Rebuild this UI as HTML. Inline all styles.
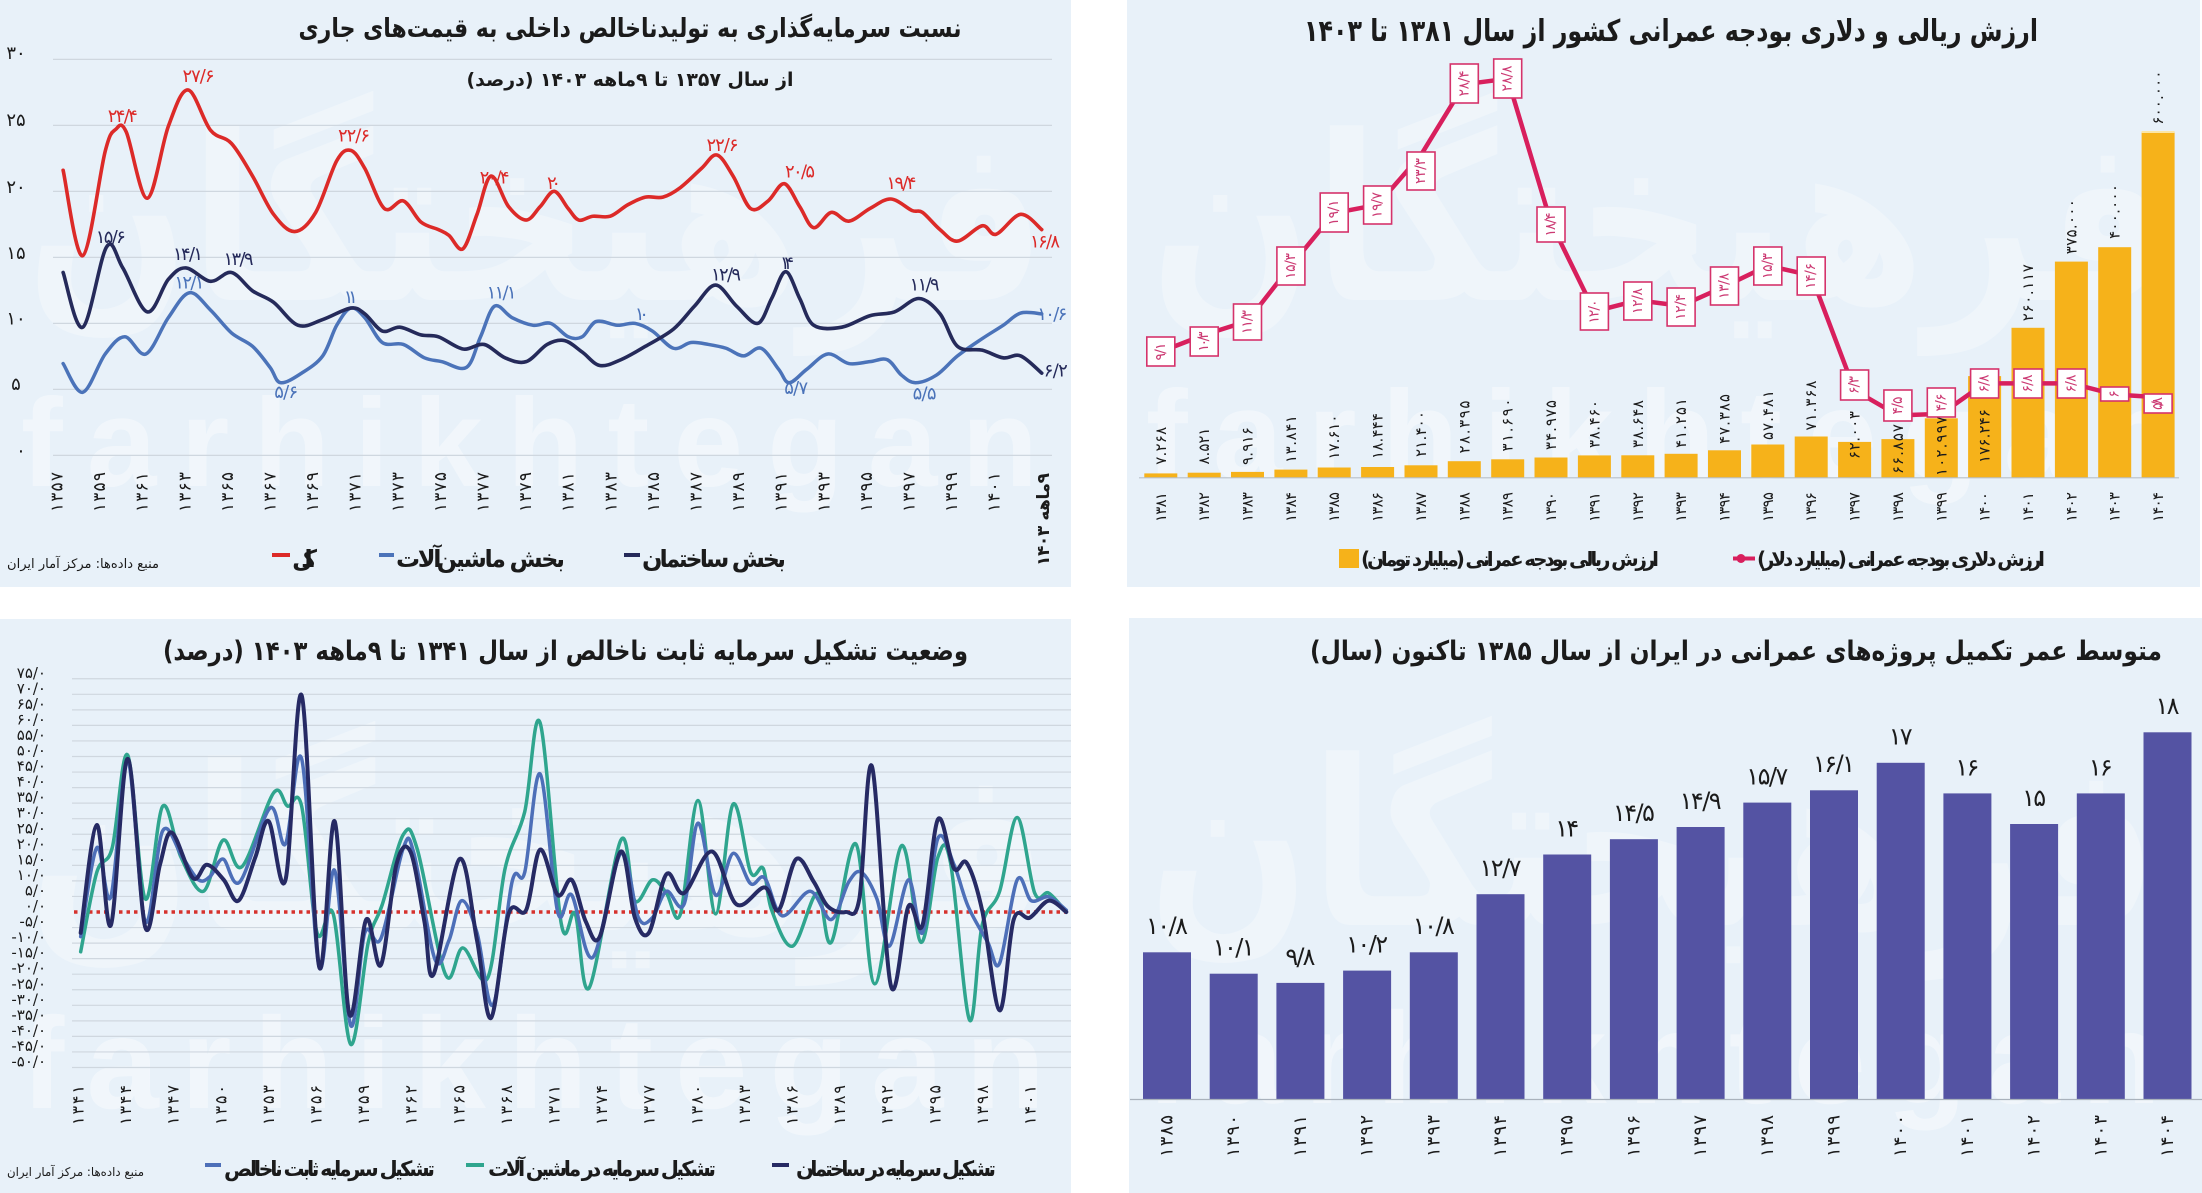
<!DOCTYPE html>
<html><head><meta charset="utf-8"><style>
html,body{margin:0;padding:0;background:#fff;overflow:hidden}
svg{display:block}
text{font-family:"DejaVu Sans","Liberation Sans",sans-serif;fill:#1b1b1b}
.fa{direction:rtl;unicode-bidi:embed}
.b{font-weight:bold}
.wm{font-family:"Liberation Sans",sans-serif;font-weight:bold;fill:#ffffff;opacity:.42}
.lg{font-family:"DejaVu Sans",sans-serif;font-weight:bold;fill:#ffffff;opacity:.3;direction:rtl;unicode-bidi:embed}
.r{dominant-baseline:central;text-anchor:middle}
</style></head><body>
<svg width="2202" height="1193" viewBox="0 0 2202 1193" xmlns="http://www.w3.org/2000/svg">
<!-- panels -->
<rect x="0" y="0" width="1071" height="587" fill="#e8f1f9"/>
<rect x="1127" y="0" width="1073" height="587" fill="#e8f1f9"/>
<rect x="0" y="619" width="1071" height="574" fill="#e8f1f9"/>
<rect x="1129" y="618" width="1073" height="575" fill="#e8f1f9"/>

<!-- watermarks -->
<text class="lg" x="536" y="300" font-size="230" text-anchor="middle" textLength="1020" lengthAdjust="spacingAndGlyphs">فرهیختگان</text>
<text class="lg" x="1660" y="300" font-size="230" text-anchor="middle" textLength="1020" lengthAdjust="spacingAndGlyphs">فرهیختگان</text>
<text class="lg" x="538" y="930" font-size="230" text-anchor="middle" textLength="1020" lengthAdjust="spacingAndGlyphs">فرهیختگان</text>
<text class="lg" x="1653" y="925" font-size="230" text-anchor="middle" textLength="1010" lengthAdjust="spacingAndGlyphs">فرهیختگان</text>
<text class="wm" x="21" y="486" font-size="125" textLength="1017" lengthAdjust="spacing">farhikhtegan</text>
<text class="wm" x="1146" y="478" font-size="125" textLength="1029" lengthAdjust="spacing">farhikhtegan</text>
<text class="wm" x="21" y="1108" font-size="130" textLength="1024" lengthAdjust="spacing">farhikhtegan</text>
<text class="wm" x="1146" y="1103" font-size="130" textLength="1015" lengthAdjust="spacing">farhikhtegan</text>

<!-- ================= TOP LEFT ================= -->
<text class="fa b" x="630" y="37" font-size="26" text-anchor="middle" textLength="663" lengthAdjust="spacingAndGlyphs">نسبت سرمایه‌گذاری به تولیدناخالص داخلی به قیمت‌های جاری</text>
<text class="fa b" x="630" y="86" font-size="19" text-anchor="middle" textLength="327" lengthAdjust="spacingAndGlyphs">از سال ۱۳۵۷ تا ۹ماهه ۱۴۰۳ (درصد)</text>
<g stroke="#cfd7df" stroke-width="1.2">
<line x1="53" y1="59.4" x2="1052" y2="59.4"/><line x1="53" y1="125.4" x2="1052" y2="125.4"/>
<line x1="53" y1="191.4" x2="1052" y2="191.4"/><line x1="53" y1="257.4" x2="1052" y2="257.4"/>
<line x1="53" y1="323.4" x2="1052" y2="323.4"/><line x1="53" y1="389.4" x2="1052" y2="389.4"/>
<line x1="53" y1="455.4" x2="1052" y2="455.4"/>
</g>
<g font-size="18" class="r">
<text x="16" y="53.6">۳۰</text><text x="16" y="120.6">۲۵</text><text x="16" y="187.5">۲۰</text>
<text x="16" y="253.3">۱۵</text><text x="16" y="318.8">۱۰</text><text x="16" y="384.6">۵</text><text x="21" y="450.8">۰</text>
</g>
<g fill="none" stroke-linejoin="round" stroke-linecap="round">
<polyline class="s" transform="scale(0.7015,0.3827)" vector-effect="non-scaling-stroke" stroke="#4b73b9" stroke-width="3.5" points="90,950 118,1025 150,925 178,880 208,925 240,830 270,765 300,810 330,870 360,905 385,960 400,1000 430,975 460,930 480,850 500,805 520,830 545,895 575,900 605,935 630,945 665,960 685,880 705,800 730,830 760,850 785,845 810,880 830,880 850,840 880,850 905,845 930,865 960,910 985,895 1010,900 1035,910 1060,930 1085,910 1110,965 1125,1000 1150,965 1180,925 1210,950 1240,945 1265,940 1285,980 1305,1000 1335,980 1365,930 1400,885 1430,850 1455,818 1485,820"/>
<polyline class="s" transform="scale(0.7015,0.3827)" vector-effect="non-scaling-stroke" stroke="#252a5a" stroke-width="3.6" points="90,712 118,855 152,645 175,700 210,815 240,730 265,700 300,735 330,712 360,760 390,790 425,850 460,835 500,805 520,820 545,865 570,855 600,875 625,880 660,912 690,900 720,935 750,945 780,900 805,890 830,920 855,955 885,940 920,905 960,860 990,800 1020,745 1050,800 1080,845 1100,780 1120,710 1140,780 1160,850 1200,855 1240,825 1275,815 1310,780 1340,820 1365,905 1400,915 1430,935 1455,930 1485,975"/>
<polyline class="s" transform="scale(0.7015,0.3827)" vector-effect="non-scaling-stroke" stroke="#dc2a28" stroke-width="3.6" points="90,445 118,668 150,395 165,338 180,345 210,518 240,330 268,235 300,340 330,375 360,460 390,560 420,605 450,555 480,420 500,393 520,440 548,545 575,525 600,580 625,600 640,615 660,650 680,560 700,460 725,540 750,575 770,540 790,500 810,545 825,575 845,565 870,565 895,535 920,515 945,515 970,490 1000,440 1022,405 1045,460 1070,545 1095,525 1118,480 1140,540 1160,595 1185,555 1210,578 1240,545 1270,520 1300,550 1315,555 1340,600 1365,630 1400,590 1420,612 1455,560 1485,600"/>
</g>
<g font-size="18" class="r" lengthAdjust="spacingAndGlyphs">
<text x="122.8" y="116.7" style="fill:#dc2a28" textLength="30">۲۴/۴</text>
<text x="198.5" y="76.5" style="fill:#dc2a28" textLength="32">۲۷/۶</text>
<text x="354" y="135.9" style="fill:#dc2a28" textLength="32">۲۲/۶</text>
<text x="494.6" y="178" style="fill:#dc2a28" textLength="30">۲۰/۴</text>
<text x="554" y="183.7" style="fill:#dc2a28" textLength="14">۲۰</text>
<text x="722.5" y="145.4" style="fill:#dc2a28" textLength="32">۲۲/۶</text>
<text x="800" y="172.2" style="fill:#dc2a28" textLength="30">۲۰/۵</text>
<text x="901.4" y="183.7" style="fill:#dc2a28" textLength="30">۱۹/۴</text>
<text x="1045" y="241.9" style="fill:#dc2a28" textLength="30">۱۶/۸</text>
<text x="110.8" y="237.3" style="fill:#252a5a" textLength="30">۱۵/۶</text>
<text x="188" y="254.5" style="fill:#252a5a" textLength="30">۱۴/۱</text>
<text x="238.5" y="259.5" style="fill:#252a5a" textLength="30">۱۳/۹</text>
<text x="726" y="274.8" style="fill:#252a5a" textLength="30">۱۲/۹</text>
<text x="787" y="263.3" style="fill:#252a5a" textLength="14">۱۴</text>
<text x="924.6" y="285.1" style="fill:#252a5a" textLength="30">۱۱/۹</text>
<text x="1055.8" y="371.2" style="fill:#252a5a" textLength="24">۶/۲</text>
<text x="189.4" y="283.2" style="fill:#4b73b9" textLength="30">۱۲/۱</text>
<text x="350.8" y="297.7" style="fill:#4b73b9" textLength="14">۱۱</text>
<text x="286.2" y="392.3" style="fill:#4b73b9" textLength="24">۵/۶</text>
<text x="501.6" y="292.8" style="fill:#4b73b9" textLength="30">۱۱/۱</text>
<text x="641.9" y="314.6" style="fill:#4b73b9" textLength="14">۱۰</text>
<text x="796.2" y="388.4" style="fill:#4b73b9" textLength="24">۵/۷</text>
<text x="924.6" y="394.2" style="fill:#4b73b9" textLength="24">۵/۵</text>
<text x="1052.3" y="314.6" style="fill:#4b73b9" textLength="30">۱۰/۶</text>
</g>
<g font-size="17" class="r" lengthAdjust="spacingAndGlyphs">
<text transform="translate(57.5,492) rotate(-90)" textLength="40">۱۳۵۷</text>
<text transform="translate(100.1,492) rotate(-90)" textLength="40">۱۳۵۹</text>
<text transform="translate(142.7,492) rotate(-90)" textLength="40">۱۳۶۱</text>
<text transform="translate(185.3,492) rotate(-90)" textLength="40">۱۳۶۳</text>
<text transform="translate(227.9,492) rotate(-90)" textLength="40">۱۳۶۵</text>
<text transform="translate(270.5,492) rotate(-90)" textLength="40">۱۳۶۷</text>
<text transform="translate(313.1,492) rotate(-90)" textLength="40">۱۳۶۹</text>
<text transform="translate(355.7,492) rotate(-90)" textLength="40">۱۳۷۱</text>
<text transform="translate(398.3,492) rotate(-90)" textLength="40">۱۳۷۳</text>
<text transform="translate(440.9,492) rotate(-90)" textLength="40">۱۳۷۵</text>
<text transform="translate(483.5,492) rotate(-90)" textLength="40">۱۳۷۷</text>
<text transform="translate(526.1,492) rotate(-90)" textLength="40">۱۳۷۹</text>
<text transform="translate(568.7,492) rotate(-90)" textLength="40">۱۳۸۱</text>
<text transform="translate(611.3,492) rotate(-90)" textLength="40">۱۳۸۳</text>
<text transform="translate(653.9,492) rotate(-90)" textLength="40">۱۳۸۵</text>
<text transform="translate(696.5,492) rotate(-90)" textLength="40">۱۳۸۷</text>
<text transform="translate(739.1,492) rotate(-90)" textLength="40">۱۳۸۹</text>
<text transform="translate(781.7,492) rotate(-90)" textLength="40">۱۳۹۱</text>
<text transform="translate(824.3,492) rotate(-90)" textLength="40">۱۳۹۳</text>
<text transform="translate(866.9,492) rotate(-90)" textLength="40">۱۳۹۵</text>
<text transform="translate(909.5,492) rotate(-90)" textLength="40">۱۳۹۷</text>
<text transform="translate(952.1,492) rotate(-90)" textLength="40">۱۳۹۹</text>
<text transform="translate(994.7,492) rotate(-90)" textLength="40">۱۴۰۱</text>
<text class="fa b" transform="translate(1044,519.5) rotate(-90)" textLength="93">۹ماهه ۱۴۰۳</text>
</g>
<rect x="272" y="553" width="18" height="4" fill="#dc2a28"/>
<rect x="379" y="553" width="15" height="4" fill="#4b73b9"/>
<rect x="624" y="553" width="16" height="4" fill="#252a5a"/>
<g class="fa b" font-size="24" text-anchor="middle" lengthAdjust="spacingAndGlyphs">
<text x="304.5" y="567" textLength="25">کل</text>
<text x="480.5" y="567" textLength="169">بخش ماشین‌آلات</text>
<text x="714" y="567" textLength="144">بخش ساختمان</text>
</g>
<text class="fa" x="83" y="568" font-size="13" text-anchor="middle" textLength="152" lengthAdjust="spacingAndGlyphs">منبع داده‌ها: مرکز آمار ایران</text>

<!-- ================= TOP RIGHT ================= -->
<text class="fa b" x="1671" y="41" font-size="30" text-anchor="middle" textLength="734" lengthAdjust="spacingAndGlyphs">ارزش ریالی و دلاری بودجه عمرانی کشور از سال ۱۳۸۱ تا ۱۴۰۳</text>
<g fill="#f6b21a">
<rect x="1144.3" y="473.4" width="33" height="4.2"/>
<rect x="1187.7" y="472.7" width="33" height="4.9"/>
<rect x="1231" y="471.9" width="33" height="5.7"/>
<rect x="1274.4" y="469.6" width="33" height="8"/>
<rect x="1317.7" y="467.5" width="33" height="10.1"/>
<rect x="1361.1" y="467" width="33" height="10.6"/>
<rect x="1404.5" y="465.3" width="33" height="12.3"/>
<rect x="1447.8" y="461.2" width="33" height="16.4"/>
<rect x="1491.2" y="459.3" width="33" height="18.3"/>
<rect x="1534.5" y="457.5" width="33" height="20.1"/>
<rect x="1577.9" y="455.4" width="33" height="22.2"/>
<rect x="1621.3" y="455.3" width="33" height="22.3"/>
<rect x="1664.6" y="453.8" width="33" height="23.8"/>
<rect x="1708" y="450.3" width="33" height="27.3"/>
<rect x="1751.3" y="444.5" width="33" height="33.1"/>
<rect x="1794.7" y="436.5" width="33" height="41.1"/>
<rect x="1838.1" y="441.9" width="33" height="35.7"/>
<rect x="1881.4" y="439.1" width="33" height="38.5"/>
<rect x="1924.8" y="418.3" width="33" height="59.3"/>
<rect x="1968.1" y="376.1" width="33" height="101.5"/>
<rect x="2011.5" y="327.8" width="33" height="149.8"/>
<rect x="2054.9" y="261.6" width="33" height="216"/>
<rect x="2098.2" y="247.2" width="33" height="230.4"/>
<rect x="2141.6" y="132" width="33" height="345.6"/>
</g>
<rect x="2141.6" y="131" width="33" height="2" fill="#fbe6a6"/>
<line x1="1139" y1="477.8" x2="2179" y2="477.8" stroke="#b8c0c8" stroke-width="1.2"/>
<g font-size="15" class="r" lengthAdjust="spacingAndGlyphs">
<text transform="translate(1160.8,445.8) rotate(-90)" textLength="38">۷.۲۶۸</text>
<text transform="translate(1204.2,446) rotate(-90)" textLength="37">۸.۵۲۱</text>
<text transform="translate(1247.5,446) rotate(-90)" textLength="38">۹.۹۱۶</text>
<text transform="translate(1290.9,439) rotate(-90)" textLength="48">۱۳.۸۴۱</text>
<text transform="translate(1334.2,437) rotate(-90)" textLength="45">۱۷.۶۱۰</text>
<text transform="translate(1377.6,436) rotate(-90)" textLength="46">۱۸.۴۴۴</text>
<text transform="translate(1421,434) rotate(-90)" textLength="46">۲۱.۴۰۰</text>
<text transform="translate(1464.3,427) rotate(-90)" textLength="53">۲۸.۳۹۵</text>
<text transform="translate(1507.7,425) rotate(-90)" textLength="53">۳۱.۶۹۰</text>
<text transform="translate(1551,425) rotate(-90)" textLength="50">۳۴.۹۷۵</text>
<text transform="translate(1594.4,424) rotate(-90)" textLength="48">۳۸.۴۶۰</text>
<text transform="translate(1637.8,424) rotate(-90)" textLength="48">۳۸.۶۴۸</text>
<text transform="translate(1681.1,423) rotate(-90)" textLength="50">۴۱.۲۵۱</text>
<text transform="translate(1724.5,419) rotate(-90)" textLength="50">۴۷.۳۸۵</text>
<text transform="translate(1767.8,415) rotate(-90)" textLength="50">۵۷.۴۸۱</text>
<text transform="translate(1811.2,405.5) rotate(-90)" textLength="50">۷۱.۳۶۸</text>
<text transform="translate(1854.6,435) rotate(-90)" textLength="48">۶۲.۰۰۳</text>
<text transform="translate(1897.9,449) rotate(-90)" textLength="50">۶۶.۸۵۷</text>
<text transform="translate(1941.3,446) rotate(-90)" textLength="60">۱۰۲.۹۹۷</text>
<text transform="translate(1984.6,436) rotate(-90)" textLength="54">۱۷۶.۲۴۶</text>
<text transform="translate(2028,292.7) rotate(-90)" textLength="57">۲۶۰.۱۱۷</text>
<text transform="translate(2071.4,226.7) rotate(-90)" textLength="55">۳۷۵.۰۰۰</text>
<text transform="translate(2114.7,211.5) rotate(-90)" textLength="55">۴۰۰.۰۰۰</text>
<text transform="translate(2158.1,97.6) rotate(-90)" textLength="54">۶۰۰.۰۰۰</text>
</g>
<polyline fill="none" stroke="#d81f5d" stroke-width="4.5" stroke-linejoin="round" points="1160.8,351.6 1204.2,334.9 1247.5,321.1 1290.9,265.7 1334.2,213.1 1377.6,204.8 1421,154.9 1464.3,84.3 1507.7,78.7 1551,222.8 1594.4,311.4 1637.8,300.3 1681.1,305.9 1724.5,286.5 1767.8,265.7 1811.2,275.4 1854.6,390.3 1897.9,415.3 1941.3,413.9 1984.6,383.4 2028,383.4 2071.4,383.4 2114.7,394.5 2158.1,397.3"/>
<g fill="#ffffff" stroke="#d5336b" stroke-width="1.6">
<rect x="1146.8" y="337" width="28" height="29"/>
<rect x="1190.2" y="327" width="28" height="29"/>
<rect x="1233.5" y="304" width="28" height="36"/>
<rect x="1276.9" y="247" width="28" height="38"/>
<rect x="1320.2" y="193" width="28" height="39"/>
<rect x="1363.6" y="186" width="28" height="38"/>
<rect x="1407" y="152" width="28" height="38"/>
<rect x="1450.3" y="64" width="28" height="39"/>
<rect x="1493.7" y="59" width="28" height="39"/>
<rect x="1537" y="207" width="28" height="35"/>
<rect x="1580.4" y="293" width="28" height="37"/>
<rect x="1623.8" y="282" width="28" height="38"/>
<rect x="1667.1" y="288" width="28" height="38"/>
<rect x="1710.5" y="267" width="28" height="38"/>
<rect x="1753.8" y="247" width="28" height="38"/>
<rect x="1797.2" y="257" width="28" height="38"/>
<rect x="1840.6" y="370" width="28" height="30"/>
<rect x="1883.9" y="390" width="28" height="31"/>
<rect x="1927.3" y="388" width="28" height="29"/>
<rect x="1970.6" y="369" width="28" height="29"/>
<rect x="2014" y="369" width="28" height="29"/>
<rect x="2057.4" y="369" width="28" height="29"/>
<rect x="2100.7" y="387" width="28" height="14"/>
<rect x="2144.1" y="394" width="28" height="19"/>
</g>
<g font-size="14" class="r" lengthAdjust="spacingAndGlyphs">
<text style="fill:#cc3a73" transform="translate(1160.8,351.5) rotate(-90)" textLength="18">۹/۱</text>
<text style="fill:#cc3a73" transform="translate(1204.2,341.5) rotate(-90)" textLength="20">۱۰/۳</text>
<text style="fill:#cc3a73" transform="translate(1247.5,322) rotate(-90)" textLength="24">۱۱/۳</text>
<text style="fill:#cc3a73" transform="translate(1290.9,266) rotate(-90)" textLength="26">۱۵/۳</text>
<text style="fill:#cc3a73" transform="translate(1334.2,212.5) rotate(-90)" textLength="26">۱۹/۱</text>
<text style="fill:#cc3a73" transform="translate(1377.6,205) rotate(-90)" textLength="26">۱۹/۷</text>
<text style="fill:#cc3a73" transform="translate(1421,171) rotate(-90)" textLength="26">۲۳/۳</text>
<text style="fill:#cc3a73" transform="translate(1464.3,83.5) rotate(-90)" textLength="26">۲۸/۴</text>
<text style="fill:#cc3a73" transform="translate(1507.7,78.5) rotate(-90)" textLength="26">۲۸/۸</text>
<text style="fill:#cc3a73" transform="translate(1551,224.5) rotate(-90)" textLength="24">۱۸/۴</text>
<text style="fill:#cc3a73" transform="translate(1594.4,311.5) rotate(-90)" textLength="24">۱۲/۰</text>
<text style="fill:#cc3a73" transform="translate(1637.8,301) rotate(-90)" textLength="26">۱۲/۸</text>
<text style="fill:#cc3a73" transform="translate(1681.1,307) rotate(-90)" textLength="26">۱۲/۴</text>
<text style="fill:#cc3a73" transform="translate(1724.5,286) rotate(-90)" textLength="26">۱۳/۸</text>
<text style="fill:#cc3a73" transform="translate(1767.8,266) rotate(-90)" textLength="26">۱۵/۳</text>
<text style="fill:#cc3a73" transform="translate(1811.2,276) rotate(-90)" textLength="26">۱۴/۶</text>
<text style="fill:#cc3a73" transform="translate(1854.6,385) rotate(-90)" textLength="18">۶/۳</text>
<text style="fill:#cc3a73" transform="translate(1897.9,405.5) rotate(-90)" textLength="18">۴/۵</text>
<text style="fill:#cc3a73" transform="translate(1941.3,402.5) rotate(-90)" textLength="18">۴/۶</text>
<text style="fill:#cc3a73" transform="translate(1984.6,383.5) rotate(-90)" textLength="18">۶/۸</text>
<text style="fill:#cc3a73" transform="translate(2028,383.5) rotate(-90)" textLength="18">۶/۸</text>
<text style="fill:#cc3a73" transform="translate(2071.4,383.5) rotate(-90)" textLength="18">۶/۸</text>
<text style="fill:#cc3a73" transform="translate(2114.7,394) rotate(-90)" textLength="7">۶</text>
<text style="fill:#cc3a73" transform="translate(2158.1,403.5) rotate(-90)" textLength="13">۵/۸</text>
</g>
<g font-size="15" class="r" lengthAdjust="spacingAndGlyphs">
<text transform="translate(1160.8,507) rotate(-90)" textLength="30">۱۳۸۱</text>
<text transform="translate(1204.2,507) rotate(-90)" textLength="30">۱۳۸۲</text>
<text transform="translate(1247.5,507) rotate(-90)" textLength="30">۱۳۸۳</text>
<text transform="translate(1290.9,507) rotate(-90)" textLength="30">۱۳۸۴</text>
<text transform="translate(1334.2,507) rotate(-90)" textLength="30">۱۳۸۵</text>
<text transform="translate(1377.6,507) rotate(-90)" textLength="30">۱۳۸۶</text>
<text transform="translate(1421,507) rotate(-90)" textLength="30">۱۳۸۷</text>
<text transform="translate(1464.3,507) rotate(-90)" textLength="30">۱۳۸۸</text>
<text transform="translate(1507.7,507) rotate(-90)" textLength="30">۱۳۸۹</text>
<text transform="translate(1551,507) rotate(-90)" textLength="30">۱۳۹۰</text>
<text transform="translate(1594.4,507) rotate(-90)" textLength="30">۱۳۹۱</text>
<text transform="translate(1637.8,507) rotate(-90)" textLength="30">۱۳۹۲</text>
<text transform="translate(1681.1,507) rotate(-90)" textLength="30">۱۳۹۳</text>
<text transform="translate(1724.5,507) rotate(-90)" textLength="30">۱۳۹۴</text>
<text transform="translate(1767.8,507) rotate(-90)" textLength="30">۱۳۹۵</text>
<text transform="translate(1811.2,507) rotate(-90)" textLength="30">۱۳۹۶</text>
<text transform="translate(1854.6,507) rotate(-90)" textLength="30">۱۳۹۷</text>
<text transform="translate(1897.9,507) rotate(-90)" textLength="30">۱۳۹۸</text>
<text transform="translate(1941.3,507) rotate(-90)" textLength="30">۱۳۹۹</text>
<text transform="translate(1984.6,507) rotate(-90)" textLength="30">۱۴۰۰</text>
<text transform="translate(2028,507) rotate(-90)" textLength="30">۱۴۰۱</text>
<text transform="translate(2071.4,507) rotate(-90)" textLength="30">۱۴۰۲</text>
<text transform="translate(2114.7,507) rotate(-90)" textLength="30">۱۴۰۳</text>
<text transform="translate(2158.1,507) rotate(-90)" textLength="30">۱۴۰۴</text>
</g>
<rect x="1339" y="549" width="20" height="19" fill="#f6b21a"/>
<line x1="1733" y1="558.5" x2="1755" y2="558.5" stroke="#d81f5d" stroke-width="4"/>
<circle cx="1741" cy="558.5" r="4.5" fill="#d81f5d"/>
<g class="fa b" font-size="20" text-anchor="middle" lengthAdjust="spacingAndGlyphs">
<text x="1510" y="566" textLength="298">ارزش ریالی بودجه عمرانی (میلیارد تومان)</text>
<text x="1901" y="566" textLength="288">ارزش دلاری بودجه عمرانی (میلیارد دلار)</text>
</g>

<!-- ================= BOTTOM LEFT ================= -->
<text class="fa b" x="565.5" y="660" font-size="27" text-anchor="middle" textLength="805" lengthAdjust="spacingAndGlyphs">وضعیت تشکیل سرمایه ثابت ناخالص از سال ۱۳۴۱ تا ۹ماهه ۱۴۰۳ (درصد)</text>
<g stroke="#cfd7df" stroke-width="1.2">
<line x1="72" y1="678.75" x2="1071" y2="678.75"/><line x1="72" y1="694.3" x2="1071" y2="694.3"/>
<line x1="72" y1="709.85" x2="1071" y2="709.85"/><line x1="72" y1="725.4" x2="1071" y2="725.4"/>
<line x1="72" y1="740.95" x2="1071" y2="740.95"/><line x1="72" y1="756.5" x2="1071" y2="756.5"/>
<line x1="72" y1="772.05" x2="1071" y2="772.05"/><line x1="72" y1="787.6" x2="1071" y2="787.6"/>
<line x1="72" y1="803.15" x2="1071" y2="803.15"/><line x1="72" y1="818.7" x2="1071" y2="818.7"/>
<line x1="72" y1="834.25" x2="1071" y2="834.25"/><line x1="72" y1="849.8" x2="1071" y2="849.8"/>
<line x1="72" y1="865.35" x2="1071" y2="865.35"/><line x1="72" y1="880.9" x2="1071" y2="880.9"/>
<line x1="72" y1="896.45" x2="1071" y2="896.45"/>
<line x1="72" y1="927.55" x2="1071" y2="927.55"/><line x1="72" y1="943.1" x2="1071" y2="943.1"/>
<line x1="72" y1="958.65" x2="1071" y2="958.65"/><line x1="72" y1="974.2" x2="1071" y2="974.2"/>
<line x1="72" y1="989.75" x2="1071" y2="989.75"/><line x1="72" y1="1005.3" x2="1071" y2="1005.3"/>
<line x1="72" y1="1020.85" x2="1071" y2="1020.85"/><line x1="72" y1="1036.4" x2="1071" y2="1036.4"/>
<line x1="72" y1="1051.95" x2="1071" y2="1051.95"/><line x1="72" y1="1067.5" x2="1071" y2="1067.5"/>
</g>
<g font-size="15" text-anchor="end" dominant-baseline="central">
<text x="46" y="672.8">۷۵/۰</text><text x="46" y="688.3">۷۰/۰</text><text x="46" y="703.9">۶۵/۰</text>
<text x="46" y="719.4">۶۰/۰</text><text x="46" y="735">۵۵/۰</text><text x="46" y="750.5">۵۰/۰</text>
<text x="46" y="766">۴۵/۰</text><text x="46" y="781.6">۴۰/۰</text><text x="46" y="797.2">۳۵/۰</text>
<text x="46" y="812.7">۳۰/۰</text><text x="46" y="828.3">۲۵/۰</text><text x="46" y="843.8">۲۰/۰</text>
<text x="46" y="859.4">۱۵/۰</text><text x="46" y="874.9">۱۰/۰</text><text x="46" y="890.5">۵/۰</text>
<text x="46" y="906">۰/۰</text><text x="46" y="921.6">-۵/۰</text><text x="46" y="937.1">-۱۰/۰</text>
<text x="46" y="952.7">-۱۵/۰</text><text x="46" y="968.2">-۲۰/۰</text><text x="46" y="983.8">-۲۵/۰</text>
<text x="46" y="999.3">-۳۰/۰</text><text x="46" y="1014.9">-۳۵/۰</text><text x="46" y="1030.4">-۴۰/۰</text>
<text x="46" y="1046">-۴۵/۰</text><text x="46" y="1061.5">-۵۰/۰</text>
</g>
<line x1="74" y1="912" x2="1066" y2="912" stroke="#d6322d" stroke-width="3.5" stroke-dasharray="3.5 4"/>
<g fill="none" stroke-linejoin="round" stroke-linecap="round">
<polyline class="s" transform="translate(0,600) scale(0.7015,0.3782)" vector-effect="non-scaling-stroke" stroke="#2fa58e" stroke-width="3.5" points="115,930 138,720 160,655 182,410 207,790 232,545 258,680 290,770 318,635 345,705 390,510 410,545 430,545 452,880 475,830 500,1175 525,905 545,805 575,620 595,660 635,990 660,920 695,1000 720,710 748,560 770,325 800,855 820,830 840,1025 885,635 905,795 930,740 950,775 970,830 995,530 1020,830 1045,540 1070,720 1088,710 1100,820 1130,915 1165,775 1185,905 1220,645 1247,1015 1285,650 1313,905 1337,680 1355,695 1382,1110 1400,860 1425,770 1450,575 1475,775 1495,775 1520,825"/>
<polyline class="s" transform="translate(0,600) scale(0.7015,0.3782)" vector-effect="non-scaling-stroke" stroke="#4d6fb8" stroke-width="3.5" points="115,890 138,655 158,785 182,425 207,850 232,610 260,680 283,740 300,730 318,685 342,745 385,550 407,645 430,420 455,970 477,715 500,1125 520,880 543,895 575,655 590,670 620,950 640,900 658,795 680,880 703,1070 730,745 748,720 770,460 795,825 815,780 845,945 885,670 910,840 930,840 950,770 975,805 995,590 1020,780 1045,670 1070,750 1090,735 1115,835 1155,770 1185,845 1210,745 1228,720 1250,790 1268,915 1295,740 1315,880 1337,630 1360,700 1380,810 1408,905 1425,960 1450,740 1470,795 1495,785 1520,820"/>
<polyline class="s" transform="translate(0,600) scale(0.7015,0.3782)" vector-effect="non-scaling-stroke" stroke="#262a64" stroke-width="4" points="115,880 138,595 158,860 182,420 207,865 228,700 245,615 275,735 295,700 319,740 340,795 364,680 383,585 407,740 430,252 455,970 477,585 498,1095 522,845 543,965 565,700 585,665 605,850 618,990 655,685 680,900 700,1105 725,830 750,820 770,660 795,780 815,740 835,850 855,890 885,665 905,840 925,880 950,725 975,775 1015,665 1050,805 1090,760 1110,820 1135,685 1160,745 1180,810 1205,825 1225,790 1243,440 1270,1020 1295,810 1315,860 1337,580 1360,710 1378,695 1400,820 1425,1085 1445,845 1468,840 1495,795 1520,825"/>
</g>
<g font-size="16" class="r" lengthAdjust="spacingAndGlyphs">
<text transform="translate(78,1105) rotate(-90)" textLength="40">۱۳۴۱</text>
<text transform="translate(125.6,1105) rotate(-90)" textLength="40">۱۳۴۴</text>
<text transform="translate(173.2,1105) rotate(-90)" textLength="40">۱۳۴۷</text>
<text transform="translate(220.8,1105) rotate(-90)" textLength="40">۱۳۵۰</text>
<text transform="translate(268.4,1105) rotate(-90)" textLength="40">۱۳۵۳</text>
<text transform="translate(316,1105) rotate(-90)" textLength="40">۱۳۵۶</text>
<text transform="translate(363.6,1105) rotate(-90)" textLength="40">۱۳۵۹</text>
<text transform="translate(411.2,1105) rotate(-90)" textLength="40">۱۳۶۲</text>
<text transform="translate(458.8,1105) rotate(-90)" textLength="40">۱۳۶۵</text>
<text transform="translate(506.4,1105) rotate(-90)" textLength="40">۱۳۶۸</text>
<text transform="translate(554,1105) rotate(-90)" textLength="40">۱۳۷۱</text>
<text transform="translate(601.6,1105) rotate(-90)" textLength="40">۱۳۷۴</text>
<text transform="translate(649.2,1105) rotate(-90)" textLength="40">۱۳۷۷</text>
<text transform="translate(696.8,1105) rotate(-90)" textLength="40">۱۳۸۰</text>
<text transform="translate(744.4,1105) rotate(-90)" textLength="40">۱۳۸۳</text>
<text transform="translate(792,1105) rotate(-90)" textLength="40">۱۳۸۶</text>
<text transform="translate(839.6,1105) rotate(-90)" textLength="40">۱۳۸۹</text>
<text transform="translate(887.2,1105) rotate(-90)" textLength="40">۱۳۹۲</text>
<text transform="translate(934.8,1105) rotate(-90)" textLength="40">۱۳۹۵</text>
<text transform="translate(982.4,1105) rotate(-90)" textLength="40">۱۳۹۸</text>
<text transform="translate(1030,1105) rotate(-90)" textLength="40">۱۴۰۱</text>
</g>
<rect x="772" y="1163" width="17" height="4" fill="#262a64"/>
<rect x="466" y="1163" width="18" height="4" fill="#2fa58e"/>
<rect x="205" y="1163" width="16" height="4" fill="#4d6fb8"/>
<g class="fa b" font-size="21" text-anchor="middle" lengthAdjust="spacingAndGlyphs">
<text x="896" y="1176" textLength="200">تشکیل سرمایه در ساختمان</text>
<text x="602" y="1176" textLength="228">تشکیل سرمایه در ماشین آلات</text>
<text x="329.5" y="1176" textLength="211">تشکیل سرمایه ثابت ناخالص</text>
</g>
<text class="fa" x="75.5" y="1176" font-size="12" text-anchor="middle" textLength="137" lengthAdjust="spacingAndGlyphs">منبع داده‌ها: مرکز آمار ایران</text>

<!-- ================= BOTTOM RIGHT ================= -->
<text class="fa b" x="1736" y="660" font-size="27" text-anchor="middle" textLength="852" lengthAdjust="spacingAndGlyphs">متوسط عمر تکمیل پروژه‌های عمرانی در ایران از سال ۱۳۸۵ تاکنون (سال)</text>
<g fill="#5453a3">
<rect x="1143" y="952.3" width="48" height="146.7"/>
<rect x="1209.7" y="973.7" width="48" height="125.3"/>
<rect x="1276.4" y="982.9" width="48" height="116.1"/>
<rect x="1343.1" y="970.6" width="48" height="128.4"/>
<rect x="1409.8" y="952.3" width="48" height="146.7"/>
<rect x="1476.5" y="894.2" width="48" height="204.8"/>
<rect x="1543.2" y="854.5" width="48" height="244.5"/>
<rect x="1609.9" y="839.2" width="48" height="259.8"/>
<rect x="1676.6" y="827" width="48" height="272"/>
<rect x="1743.3" y="802.6" width="48" height="296.4"/>
<rect x="1810" y="790.3" width="48" height="308.7"/>
<rect x="1876.7" y="762.8" width="48" height="336.2"/>
<rect x="1943.4" y="793.4" width="48" height="305.6"/>
<rect x="2010.1" y="824" width="48" height="275"/>
<rect x="2076.8" y="793.4" width="48" height="305.6"/>
<rect x="2143.5" y="732.3" width="48" height="366.7"/>
</g>
<line x1="1130" y1="1099.5" x2="2202" y2="1099.5" stroke="#a9b2bc" stroke-width="1.2"/>
<g font-size="24" class="r" lengthAdjust="spacingAndGlyphs">
<text x="1167" y="926" textLength="42">۱۰/۸</text>
<text x="1233.7" y="947.5" textLength="42">۱۰/۱</text>
<text x="1300.4" y="957" textLength="30">۹/۸</text>
<text x="1367.1" y="944.5" textLength="42">۱۰/۲</text>
<text x="1433.8" y="926" textLength="42">۱۰/۸</text>
<text x="1500.5" y="868" textLength="42">۱۲/۷</text>
<text x="1567.2" y="828.5" textLength="24">۱۴</text>
<text x="1633.9" y="813" textLength="42">۱۴/۵</text>
<text x="1700.6" y="801" textLength="42">۱۴/۹</text>
<text x="1767.3" y="776.5" textLength="42">۱۵/۷</text>
<text x="1834" y="764" textLength="42">۱۶/۱</text>
<text x="1900.7" y="736.5" textLength="24">۱۷</text>
<text x="1967.4" y="767.5" textLength="24">۱۶</text>
<text x="2034.1" y="798" textLength="24">۱۵</text>
<text x="2100.8" y="767.5" textLength="24">۱۶</text>
<text x="2167.5" y="706" textLength="24">۱۸</text>
</g>
<g font-size="18" class="r" lengthAdjust="spacingAndGlyphs">
<text transform="translate(1167,1136) rotate(-90)" textLength="42">۱۳۸۵</text>
<text transform="translate(1233.7,1136) rotate(-90)" textLength="42">۱۳۹۰</text>
<text transform="translate(1300.4,1136) rotate(-90)" textLength="42">۱۳۹۱</text>
<text transform="translate(1367.1,1136) rotate(-90)" textLength="42">۱۳۹۲</text>
<text transform="translate(1433.8,1136) rotate(-90)" textLength="42">۱۳۹۳</text>
<text transform="translate(1500.5,1136) rotate(-90)" textLength="42">۱۳۹۴</text>
<text transform="translate(1567.2,1136) rotate(-90)" textLength="42">۱۳۹۵</text>
<text transform="translate(1633.9,1136) rotate(-90)" textLength="42">۱۳۹۶</text>
<text transform="translate(1700.6,1136) rotate(-90)" textLength="42">۱۳۹۷</text>
<text transform="translate(1767.3,1136) rotate(-90)" textLength="42">۱۳۹۸</text>
<text transform="translate(1834,1136) rotate(-90)" textLength="42">۱۳۹۹</text>
<text transform="translate(1900.7,1136) rotate(-90)" textLength="42">۱۴۰۰</text>
<text transform="translate(1967.4,1136) rotate(-90)" textLength="42">۱۴۰۱</text>
<text transform="translate(2034.1,1136) rotate(-90)" textLength="42">۱۴۰۲</text>
<text transform="translate(2100.8,1136) rotate(-90)" textLength="42">۱۴۰۳</text>
<text transform="translate(2167.5,1136) rotate(-90)" textLength="42">۱۴۰۴</text>
</g>
</svg>
<script>
document.querySelectorAll('polyline.s').forEach(function(pl){
  var pts=pl.getAttribute('points').trim().split(/\s+/).map(function(p){return p.split(',').map(Number);});
  var d='M'+pts[0][0]+','+pts[0][1];
  for(var i=0;i<pts.length-1;i++){
    var p0=pts[i-1]||pts[i],p1=pts[i],p2=pts[i+1],p3=pts[i+2]||p2;
    var c1=[p1[0]+(p2[0]-p0[0])/6,p1[1]+(p2[1]-p0[1])/6];
    var c2=[p2[0]-(p3[0]-p1[0])/6,p2[1]-(p3[1]-p1[1])/6];
    d+=' C'+c1[0]+','+c1[1]+' '+c2[0]+','+c2[1]+' '+p2[0]+','+p2[1];
  }
  var path=document.createElementNS('http://www.w3.org/2000/svg','path');
  for(var j=0;j<pl.attributes.length;j++){var a=pl.attributes[j];if(a.name!=='points')path.setAttribute(a.name,a.value);}
  path.setAttribute('d',d);
  pl.parentNode.replaceChild(path,pl);
});
</script>
</body></html>
